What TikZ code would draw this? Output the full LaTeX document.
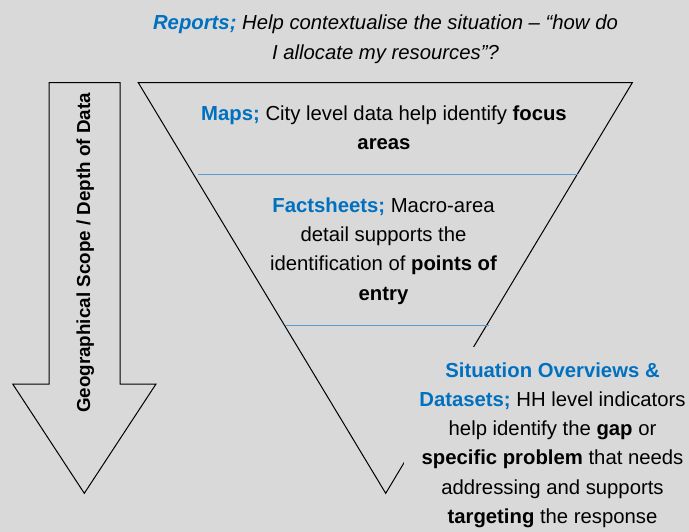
\documentclass[tikz,border=0pt]{standalone}
\usepackage{fontspec}
\setmainfont{Liberation Sans}
\definecolor{bg}{HTML}{D9D9D9}
\definecolor{hblue}{HTML}{0070C0}
\definecolor{lblue}{HTML}{5B9BD5}
\newcommand{\hd}[1]{\textcolor{hblue}{\textbf{#1}}}
\begin{document}
\begin{tikzpicture}[x=1pt,y=-1pt,
  txt/.style={align=center, font=\fontsize{20.3}{29.3}\selectfont, inner sep=0pt, anchor=base},
  outline/.style={draw=black, line width=1pt, line join=miter},
  divider/.style={draw=lblue, line width=1pt}]
\fill[bg] (0,0) rectangle (689,532);
\useasboundingbox (0,0) rectangle (689,532);
% funnel
\coordinate (tl) at (138.3,82.7);
\coordinate (tr) at (632.3,82.7);
\coordinate (ap) at (385.7,493.3);
\draw[outline] (tl) -- (tr) -- (ap) -- cycle;
\coordinate (d1a) at (198,174.3);
\coordinate (d1b) at (577.5,174.3);
\coordinate (d2a) at (284.8,325.3);
\coordinate (d2b) at (489.3,325.3);
\draw[divider] (d1a) -- (d1b);
\draw[divider] (d2a) -- (d2b);
% arrow
\coordinate (a1) at (49,82.7);
\coordinate (a2) at (120,82.7);
\coordinate (a3) at (120,384);
\coordinate (a4) at (156,384);
\coordinate (a5) at (84.3,493.3);
\coordinate (a6) at (12.7,384);
\coordinate (a7) at (49,384);
\draw[outline] (a1) -- (a2) -- (a3) -- (a4) -- (a5) -- (a6) -- (a7) -- cycle;
\node[rotate=90, font=\fontsize{18.8}{22}\selectfont\bfseries, inner sep=0pt] (scope) at (85.3,253) {Geographical Scope / Depth of Data};
% texts
\node[txt, font=\fontsize{20.3}{29.3}\selectfont\itshape] (reports) at (385.5,59.3)
  {\hd{Reports;} Help contextualise the situation – “how do\\ I allocate my resources”?};
\node[txt] (maps) at (384,150)
  {\hd{Maps;} City level data help identify \textbf{focus}\\ \textbf{areas}};
\node[txt] (facts) at (383.5,300)
  {\hd{Factsheets;} Macro-area\\ detail supports the\\ identification of \textbf{points of}\\ \textbf{entry}};
\node[txt, fill=bg, inner sep=15pt] (sit) at (552.5,523.5)
  {\hd{Situation Overviews \&}\\ \hd{Datasets;} HH level indicators\\ help identify the \textbf{gap} or\\ \textbf{specific problem} that needs\\ addressing and supports\\ \textbf{targeting} the response};
\end{tikzpicture}
\end{document}
